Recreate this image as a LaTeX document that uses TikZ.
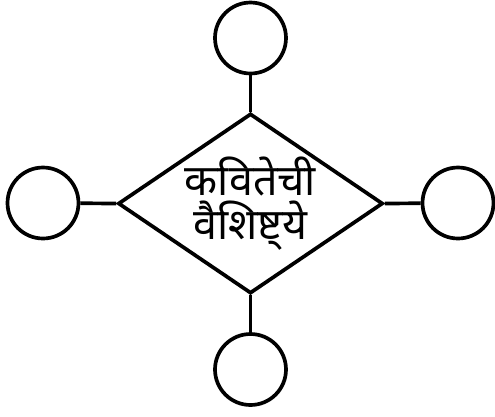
\documentclass[tikz,border=0pt]{standalone}
\usepackage{fontspec}
\newfontfamily\devfont[Script=Devanagari]{Noto Sans}
\usetikzlibrary{shapes.geometric}

\begin{document}
\begin{tikzpicture}[
  x=0.02cm, y=-0.02cm,
  circ/.style={                             % outer empty circle
    draw, line width=2.1pt, circle, minimum size=1.42cm, inner sep=0pt
  },
  hub/.style={                              % central diamond with the title
    draw, line width=2.1pt, diamond, aspect=1.47, inner sep=-5pt,
    minimum width=5.3cm, minimum height=3.6cm, align=center,
    font=\devfont\fontsize{24.5}{25}\selectfont
  },
  link/.style={draw, line width=2.1pt},
]
\useasboundingbox (0,0) rectangle (495,417);

% ---- Nodes ----
\node (hub) at (250.5,203.5) [hub] {कवितेची\\वैशिष्ट्‌ये};

\node (top)    at (250.5, 38.0) [circ] {};
\node (bottom) at (250.5,369.5) [circ] {};
\node (left)   at ( 43.0,203.0) [circ] {};
\node (right)  at (458.0,203.0) [circ] {};

% ---- Edges ----
\foreach \c/\a in {top/north, bottom/south, left/west, right/east}
  \draw[link] (\c) -- (hub.\a);

\end{tikzpicture}
\end{document}
